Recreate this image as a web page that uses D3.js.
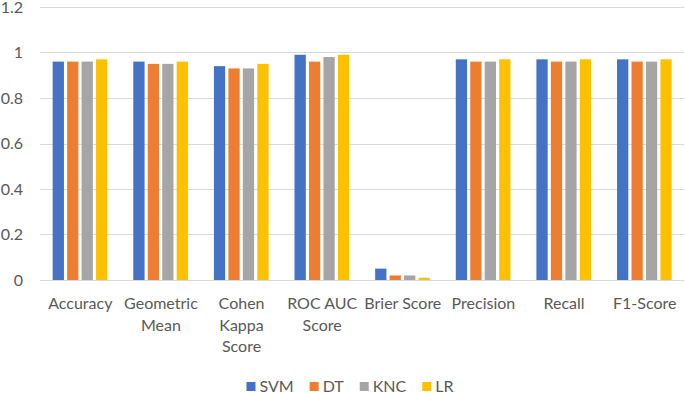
<!DOCTYPE html>
<html>
  <head>
    <meta charset="utf-8">
    <title>Classifier metrics</title>
    <style>
      body { margin: 0; background: #fff; }
      text { font-family: Lato, "Open Sans", sans-serif; fill: #595959; }
      .grid line { stroke: #d9d9d9; stroke-width: 1px; }
    </style>
    <script src="https://cdn.jsdelivr.net/npm/d3@7"></script>
  </head>
  <body>
  <script type="text/javascript">
    // data
    var categories = ["Accuracy", "Geometric Mean", "Cohen Kappa Score", "ROC AUC Score",
                      "Brier Score", "Precision", "Recall", "F1-Score"];
    var labelLines = [["Accuracy"], ["Geometric", "Mean"], ["Cohen", "Kappa", "Score"],
                      ["ROC AUC", "Score"], ["Brier Score"], ["Precision"], ["Recall"], ["F1-Score"]];
    var series = ["SVM", "DT", "KNC", "LR"];
    var svm = [0.96, 0.96, 0.94, 0.99, 0.05, 0.97, 0.97, 0.97];
    var dt  = [0.96, 0.95, 0.93, 0.96, 0.02, 0.96, 0.96, 0.96];
    var knc = [0.96, 0.95, 0.93, 0.98, 0.02, 0.96, 0.96, 0.96];
    var lr  = [0.97, 0.96, 0.95, 0.99, 0.01, 0.97, 0.97, 0.97];
    var yTicks = [0, 0.2, 0.4, 0.6, 0.8, 1, 1.2];
    var colors = ["#4472c4", "#ed7d31", "#a5a5a5", "#ffc000"];

    var values = [svm, dt, knc, lr];
    var width = 685, height = 394;
    var plotL = 40, plotR = 685, plotT = 7, plotB = 280;
    var fs = "16px";

    var svg = d3.select("body").append("svg")
        .attr("width", width)
        .attr("height", height);

    var y = d3.scaleLinear().domain([0, 1.2]).range([plotB, plotT]);
    var x0 = d3.scaleBand().domain(categories).range([plotL, plotR]);
    var bw = x0.bandwidth();
    var x1 = d3.scaleBand().domain(series).range([bw * 0.157, bw * 0.835]).paddingInner(0.22);

    // gridlines
    svg.append("g").attr("class", "grid")
      .selectAll("line").data(yTicks).enter().append("line")
        .attr("x1", plotL).attr("x2", plotR - 1)
        .attr("y1", function(d){ return Math.round(y(d)) + 0.5; })
        .attr("y2", function(d){ return Math.round(y(d)) + 0.5; });

    // y labels
    svg.append("g").selectAll("text").data(yTicks).enter().append("text")
        .attr("x", 23)
        .attr("y", function(d){ return y(d); })
        .attr("dy", "0.35em")
        .attr("text-anchor", "end")
        .style("font-size", fs)
        .text(function(d){ return d3.format("~g")(d); });

    // bars
    var groups = svg.append("g").selectAll("g").data(categories).enter().append("g")
        .attr("transform", function(d){ return "translate(" + x0(d) + ",0)"; });
    groups.selectAll("rect")
      .data(function(d, i){ return series.map(function(s, j){ return {s: s, j: j, v: values[j][i]}; }); })
      .enter().append("rect")
        .attr("x", function(d){ return x1(d.s); })
        .attr("width", x1.bandwidth())
        .attr("y", function(d){ return y(d.v); })
        .attr("height", function(d){ return plotB - y(d.v); })
        .attr("fill", function(d){ return colors[d.j]; });

    // category labels
    var lab = svg.append("g").selectAll("text").data(categories).enter().append("text")
        .attr("text-anchor", "middle")
        .style("font-size", fs)
        .attr("transform", function(d){ return "translate(" + (x0(d) + bw / 2) + ",309)"; });
    lab.selectAll("tspan")
      .data(function(d, i){ return labelLines[i]; })
      .enter().append("tspan")
        .attr("x", 0)
        .attr("y", function(d, i){ return i * 21.5; })
        .text(function(d){ return d; });

    // legend
    var legend = svg.append("g");
    var lx = 0;
    series.forEach(function(s, i){
      var g = legend.append("g").attr("transform", "translate(" + lx + ",0)");
      g.append("rect").attr("x", 0).attr("y", 382).attr("width", 9).attr("height", 9)
        .attr("fill", colors[i]);
      var t = g.append("text").attr("x", 13).attr("y", 392)
        .style("font-size", fs).text(s);
      lx += 13 + t.node().getComputedTextLength() + 16;
    });
    lx -= 16;
    legend.attr("transform", "translate(" + (350 - lx / 2) + ",0)");
  </script>
  </body>
</html>
